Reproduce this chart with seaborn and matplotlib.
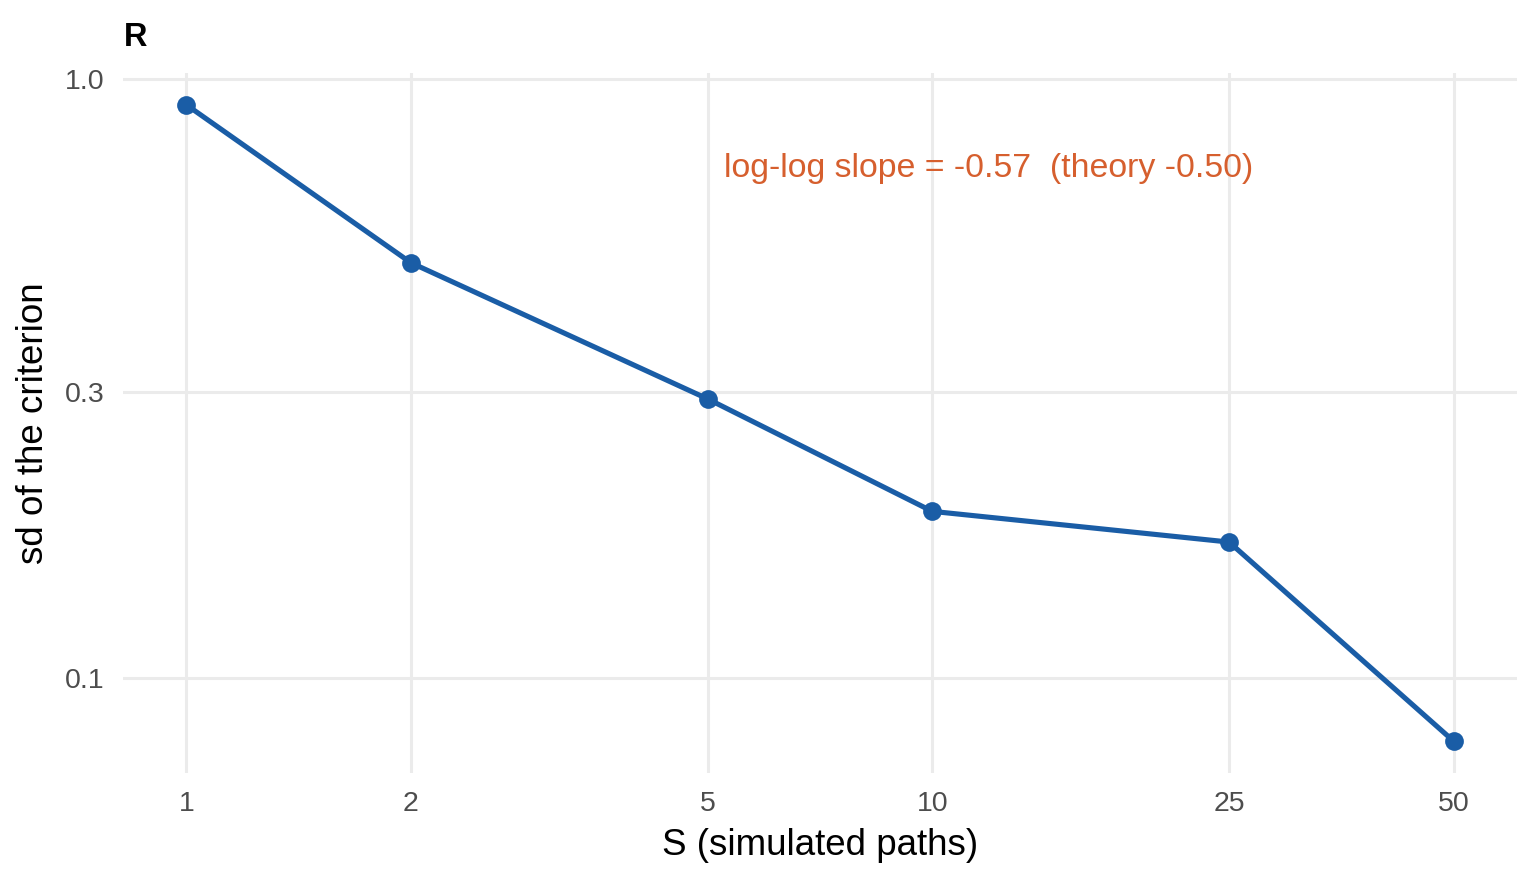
import numpy as np
import pandas as pd
import matplotlib
matplotlib.use("Agg")
import matplotlib.pyplot as plt
import seaborn as sns
from matplotlib.ticker import FixedLocator, NullLocator, FixedFormatter

# ---- data ----
S_values = [1, 2, 5, 10, 25, 50]
sd_values = [0.905, 0.493, 0.292, 0.1895, 0.1684, 0.0783]
x_ticks = [1, 2, 5, 10, 25, 50]
x_tick_labels = ["1", "2", "5", "10", "25", "50"]
y_ticks = [0.1, 0.3, 1.0]
y_tick_labels = ["0.1", "0.3", "1.0"]
annotation_text = "log-log slope = -0.57  (theory -0.50)"
annot_x, annot_y = 5.25, 0.708

df = pd.DataFrame({"S": S_values, "sd": sd_values})

sns.set_theme(style="white")
plt.rcParams["font.family"] = ["Liberation Sans", "DejaVu Sans"]

fig = plt.figure(figsize=(15.36, 8.83), dpi=100)
ax = fig.add_axes([123 / 1536, 1 - 773 / 883, (1517 - 123) / 1536, (773 - 73) / 883])

line_color = "#1A5DA6"
sns.lineplot(data=df, x="S", y="sd", ax=ax, color=line_color, linewidth=3.7,
             marker="o", markersize=13.5, markeredgewidth=0, zorder=3)

ax.set_xscale("log")
ax.set_yscale("log")

lx = np.log10(S_values)
ly = np.log10(sd_values)
ex = 0.05 * (lx.max() - lx.min())
ey = 0.05 * (ly.max() - ly.min())
ax.set_xlim(10 ** (lx.min() - ex), 10 ** (lx.max() + ex))
ax.set_ylim(10 ** (ly.min() - ey), 10 ** (ly.max() + ey))

ax.xaxis.set_major_locator(FixedLocator(x_ticks))
ax.xaxis.set_major_formatter(FixedFormatter(x_tick_labels))
ax.xaxis.set_minor_locator(NullLocator())
ax.yaxis.set_major_locator(FixedLocator(y_ticks))
ax.yaxis.set_major_formatter(FixedFormatter(y_tick_labels))
ax.yaxis.set_minor_locator(NullLocator())

ax.grid(True, which="major", color="#EBEBEB", linewidth=2.2)
ax.set_axisbelow(True)
for sp in ax.spines.values():
    sp.set_visible(False)

ax.tick_params(axis="both", which="both", length=0, labelsize=20.5, labelcolor="#4D4D4D")
ax.tick_params(axis="x", pad=13)
ax.tick_params(axis="y", pad=13)

ax.set_xlabel("S (simulated paths)", fontsize=26.5, color="black", labelpad=8)
ax.set_ylabel("sd of the criterion", fontsize=26.5, color="black", labelpad=10)

ax.text(annot_x, annot_y, annotation_text, color="#D65F2E", fontsize=24.4,
        ha="left", va="center")

fig.text(124 / 1536, 1 - 46 / 883, "R", fontsize=23.5, fontweight="bold",
         ha="left", va="baseline", color="black")

fig.savefig("out.png", dpi=100, facecolor="white")
